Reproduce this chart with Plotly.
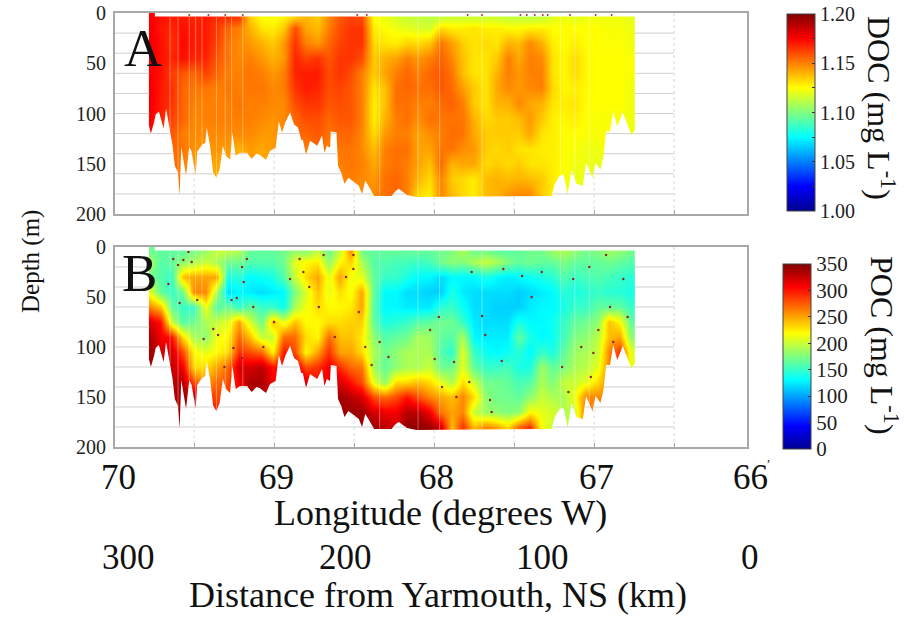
import numpy as np
import plotly.graph_objects as go

FONT = "Liberation Serif"
W, H = 920, 618

DEPTHS = [5, 15, 30, 45, 60, 75, 90, 105, 120, 135, 150, 165, 180]
LONS = [69.78, 69.71, 69.64, 69.57, 69.50, 69.43, 69.36, 69.29, 69.22, 69.15, 69.08,
        69.01, 68.94, 68.87, 68.80, 68.73, 68.66, 68.59, 68.52, 68.45, 68.38, 68.31,
        68.24, 68.17, 68.10, 68.03, 67.96, 67.89, 67.82, 67.75, 67.68, 67.61, 67.54,
        67.47, 67.40, 67.33, 67.26, 67.19, 67.12, 67.05, 66.98, 66.91, 66.84, 66.77]

# DOC (thousandths of mg/L); one list per longitude, one value per depth
DOC = [
 [1176,1178,1178,1176,1176,1178,1178,1176,1175,1170,1170,1170,1170],
 [1172,1170,1172,1172,1172,1170,1170,1168,1166,1165,1165,1165,1165],
 [1170,1168,1166,1168,1163,1166,1165,1162,1158,1155,1155,1155,1155],
 [1170,1172,1174,1172,1158,1155,1155,1155,1150,1152,1150,1150,1150],
 [1168,1170,1170,1168,1155,1152,1150,1148,1148,1146,1145,1145,1145],
 [1170,1170,1170,1168,1162,1152,1150,1150,1148,1146,1145,1145,1145],
 [1166,1164,1162,1158,1155,1150,1150,1150,1148,1146,1142,1140,1140],
 [1166,1155,1152,1152,1150,1152,1150,1150,1148,1145,1142,1140,1140],
 [1164,1150,1148,1148,1150,1150,1152,1150,1148,1140,1140,1140,1140],
 [1135,1140,1145,1150,1152,1152,1150,1150,1148,1145,1145,1145,1145],
 [1125,1130,1140,1145,1150,1152,1150,1148,1145,1142,1142,1142,1142],
 [1124,1128,1135,1140,1145,1148,1148,1146,1145,1145,1145,1145,1145],
 [1128,1135,1145,1145,1150,1150,1148,1148,1148,1148,1148,1148,1148],
 [1135,1160,1165,1168,1168,1165,1160,1155,1155,1155,1155,1155,1155],
 [1140,1142,1150,1162,1170,1170,1165,1160,1155,1150,1150,1150,1150],
 [1135,1138,1145,1165,1170,1168,1165,1160,1158,1155,1155,1155,1155],
 [1148,1150,1155,1158,1160,1160,1158,1155,1152,1150,1150,1150,1150],
 [1158,1160,1162,1165,1165,1162,1160,1158,1155,1152,1150,1150,1150],
 [1162,1165,1165,1165,1160,1158,1158,1158,1155,1152,1152,1150,1150],
 [1160,1165,1165,1160,1150,1150,1150,1150,1148,1148,1150,1148,1148],
 [1125,1128,1132,1135,1135,1130,1128,1128,1132,1138,1142,1145,1148],
 [1122,1125,1130,1140,1143,1137,1137,1140,1145,1150,1150,1153,1153],
 [1118,1122,1128,1143,1150,1153,1153,1150,1150,1153,1153,1155,1155],
 [1115,1120,1133,1150,1155,1155,1153,1153,1150,1153,1150,1150,1150],
 [1114,1118,1132,1145,1150,1153,1150,1147,1143,1143,1143,1140,1132],
 [1112,1116,1136,1150,1155,1153,1150,1153,1147,1143,1137,1132,1128],
 [1114,1132,1152,1156,1158,1158,1154,1152,1150,1152,1154,1149,1149],
 [1116,1128,1144,1148,1152,1154,1156,1152,1154,1152,1139,1135,1138],
 [1116,1128,1134,1137,1137,1144,1150,1152,1152,1147,1142,1132,1132],
 [1116,1130,1130,1130,1130,1135,1135,1140,1142,1145,1142,1128,1128],
 [1116,1128,1132,1130,1130,1130,1130,1132,1135,1135,1132,1138,1138],
 [1116,1128,1130,1135,1140,1142,1140,1135,1135,1132,1135,1140,1140],
 [1114,1126,1140,1150,1150,1148,1140,1135,1135,1135,1132,1138,1145],
 [1114,1125,1138,1142,1145,1145,1148,1138,1135,1130,1135,1140,1148],
 [1113,1128,1148,1150,1150,1148,1142,1145,1142,1130,1130,1138,1148],
 [1114,1128,1140,1148,1150,1150,1140,1135,1130,1128,1130,1135,1135],
 [1120,1125,1128,1130,1130,1132,1130,1128,1128,1128,1128,1128,1128],
 [1122,1125,1125,1126,1126,1126,1128,1126,1125,1125,1125,1124,1124],
 [1120,1125,1128,1132,1132,1128,1130,1128,1125,1124,1122,1122,1122],
 [1122,1125,1125,1126,1126,1126,1125,1125,1124,1122,1122,1120,1120],
 [1122,1125,1125,1125,1125,1125,1125,1124,1124,1122,1120,1120,1120],
 [1122,1124,1124,1125,1125,1125,1125,1124,1124,1124,1124,1124,1124],
 [1122,1124,1125,1125,1125,1125,1125,1124,1124,1124,1124,1124,1124],
 [1120,1122,1122,1124,1124,1122,1122,1122,1122,1122,1122,1122,1122],
]

# POC (mg/L as labelled); one list per longitude, one value per depth
POC = [
 [170,190,170,210,260,320,335,340,340,340,340,340,340],
 [165,160,160,165,240,300,310,320,330,330,330,330,330],
 [165,165,150,150,165,200,300,320,325,330,330,330,330],
 [165,180,240,170,150,160,230,280,310,330,340,345,345],
 [175,190,250,260,150,170,190,220,230,280,330,330,330],
 [185,200,250,260,215,190,180,210,230,250,300,310,310],
 [200,190,250,190,160,200,215,220,250,270,280,300,300],
 [195,170,140,120,170,210,220,230,270,280,290,290,290],
 [190,170,145,130,150,250,270,290,320,310,310,310,310],
 [165,160,130,125,165,205,240,280,320,335,335,335,335],
 [165,160,135,120,150,170,200,270,330,335,335,335,335],
 [165,160,140,125,150,240,200,220,300,310,310,310,310],
 [170,170,160,130,135,210,270,300,310,310,310,310,310],
 [185,210,200,175,190,240,270,280,320,330,330,330,330],
 [180,220,230,205,215,220,230,220,280,320,320,320,320],
 [200,225,250,240,230,220,220,250,290,300,300,300,300],
 [170,180,210,210,220,230,270,290,310,320,320,320,320],
 [200,220,250,230,220,230,240,250,290,320,340,340,340],
 [255,235,215,215,225,235,240,250,270,300,330,340,340],
 [170,190,210,250,250,235,225,230,265,280,320,340,340],
 [165,160,165,165,160,165,180,190,185,210,280,320,340],
 [165,160,150,130,130,140,160,170,165,180,270,310,330],
 [165,155,150,130,130,145,165,180,180,230,280,310,320],
 [165,155,140,120,125,150,170,190,190,230,300,330,345],
 [165,150,130,120,125,160,190,190,190,240,280,330,345],
 [165,155,130,115,125,165,185,190,200,230,260,310,340],
 [170,170,120,115,145,170,165,160,170,210,250,265,320],
 [175,180,130,140,150,170,160,145,170,190,240,250,240],
 [190,175,130,125,135,150,190,210,210,230,260,260,290],
 [170,190,130,120,120,125,130,150,165,200,230,200,240],
 [175,200,140,120,120,120,125,135,150,170,180,185,260],
 [165,190,130,120,115,120,125,130,150,170,170,180,250],
 [165,175,125,120,115,120,125,135,155,165,170,175,230],
 [165,165,130,115,115,140,165,145,140,155,165,180,270],
 [170,170,135,120,125,130,140,130,140,160,180,220,290],
 [170,165,140,125,130,130,130,150,185,190,200,210,215],
 [185,165,145,130,130,135,135,140,165,175,190,205,200],
 [190,175,160,145,140,150,155,165,175,200,190,190,200],
 [180,165,150,140,150,165,175,185,190,200,215,200,200],
 [170,165,155,145,150,170,180,190,195,210,260,270,270],
 [175,165,160,150,165,180,195,200,210,230,260,260,260],
 [185,170,155,145,165,240,240,260,260,260,260,260,260],
 [180,165,150,145,165,220,250,290,290,290,290,290,290],
 [170,160,145,140,150,165,180,210,210,210,210,210,210],
]

# sea-floor / transect bottom profile
BOTTOM_LON = [69.782,69.78,69.77,69.75,69.74,69.72,69.71,69.69,69.675,69.66,69.635,69.62,69.60,69.59,
 69.58,69.56,69.55,69.53,69.515,69.49,69.48,69.45,69.43,69.42,69.40,69.38,69.36,69.34,69.32,69.30,
 69.275,69.26,69.24,69.21,69.17,69.14,69.11,69.09,69.05,69.025,68.99,68.97,68.95,68.93,68.90,68.875,
 68.85,68.83,68.82,68.80,68.775,68.73,68.70,68.685,68.67,68.65,68.645,68.61,68.60,68.58,68.56,68.535,
 68.50,68.47,68.45,68.43,68.41,68.375,68.265,68.24,68.22,68.17,68.11,67.265,67.245,67.215,67.19,
 67.165,67.14,67.11,67.07,67.05,67.01,66.99,66.96,66.94,66.925,66.90,66.88,66.855,66.82,66.765,66.75,66.745]
BOTTOM_DEPTH = [112,114,120,109,101,98,104,115,95,109,131,152,159,182,
 133,152,162,133,138,162,138,131,129,114,132,159,164,156,132,142,
 146,119,142,139,139,145,140,141,146,137,134,108,119,109,99,111,
 114,126,126,141,127,132,122,139,132,134,118,119,152,159,170,164,
 168,172,180,167,172,182,182,177,175,181,183,182,170,162,161,
 180,156,170,172,149,164,149,156,142,118,118,98,113,99,122,117,117]

STREAK_LON = [69.65,69.60,69.53,69.49,69.45,69.36,69.305,69.265,69.195,68.34,68.10,67.965,67.70,67.21,67.12,67.03]

SPECK_LON = [69.567,69.515,69.63,69.60,69.535,69.66,69.59,69.48,69.265,69.233,69.19,69.20,69.17,69.35,
 69.254,69.20,69.067,68.90,68.84,68.817,68.69,68.504,68.504,68.34,68.285,68.39,67.97,68.025,
 67.765,67.567,67.45,67.327,67.13,67.39,67.70,67.68,67.996,67.875,67.577,67.65,67.004,66.973,66.817,66.79,66.925,67.03,
 69.44,69.38,69.31,69.13,69.0,68.78,68.72,68.62,68.55,68.47,68.43,67.95,67.86,67.78,67.64,67.2,67.16,67.08,67.02,66.9,66.88]
SPECK_DEPTH = [13,15,12,18,5,37,56,53,53,51,35,20,12,88,
 101,111,100,32,12,25,8,22,8,95,110,118,70,83,
 25,22,29,25,32,50,69,88,112,115,114,153,106,83,32,70,8,20,
 92,82,120,60,75,40,60,90,30,65,100,140,150,135,165,120,145,100,130,60,95]

# dark specks along the surface of panel A
SURFACE_LON = [69.53,69.41,69.305,69.195,68.48,68.42,67.79,67.70,67.46,67.42,67.37,67.32,67.29,67.15,66.99,66.89]

DEPTH_TICKS = [0, 50, 100, 150, 200]
DOC_TICKS = [1.00, 1.025, 1.05, 1.075, 1.10, 1.125, 1.15, 1.175, 1.20]
DOC_TICK_TEXT = ["1.00", "", "1.05", "", "1.10", "", "1.15", "", "1.20"]
POC_TICKS = [0, 50, 100, 150, 200, 250, 300, 350]
LON_LABELS = ["70", "69", "68", "67", "66"]
KM_LABELS = ["300", "200", "100", "0"]

JET = [[0, "rgb(0,0,143)"], [0.125, "rgb(0,0,255)"], [0.375, "rgb(0,255,255)"],
       [0.625, "rgb(255,255,0)"], [0.875, "rgb(255,0,0)"], [1, "rgb(128,0,0)"]]

L, R = 115, 747
PANELS = [(13, 214), (247, 447)]
X_RANGE = [69.994, 66.044]
GRID = "#cfcfcf"
BORDER = "#a8a8a8"

fig = go.Figure()
blon = np.array(BOTTOM_LON)
bdep = np.array(BOTTOM_DEPTH, float)


def bottom_at(lon):
    return np.interp(-np.asarray(lon), -blon, bdep, left=0, right=0)


def add_panel(n, z, zmin, zmax, cb):
    xa, ya = ("x", "y") if n == 1 else ("x2", "y2")
    fig.add_trace(go.Heatmap(x=LONS, y=DEPTHS, z=np.array(z, float).T, zmin=zmin, zmax=zmax,
                             colorscale=JET, zsmooth="best", colorbar=cb, xaxis=xa, yaxis=ya,
                             hoverinfo="skip"))
    # white below the bottom of the transect and outside it
    mx = [70.0, blon[0]] + list(blon) + [blon[-1], 66.0, 66.0, 70.0, 70.0]
    my = [0, 0] + list(bdep) + [0, 0, 200, 200, 0]
    fig.add_trace(go.Scatter(x=mx, y=my, mode="lines", fill="toself", fillcolor="white",
                             line=dict(width=0, color="white"), xaxis=xa, yaxis=ya,
                             hoverinfo="skip", showlegend=False))
    fig.add_trace(go.Scatter(x=[69.745, 66.7, 66.7, 69.745, 69.745], y=[0, 0, 3.6, 3.6, 0], mode="lines",
                             fill="toself", fillcolor="white", line=dict(width=0, color="white"),
                             xaxis=xa, yaxis=ya, hoverinfo="skip", showlegend=False))
    # pale streaks
    sx, sy = [], []
    for s in STREAK_LON:
        sx += [s, s, None]
        sy += [4, float(bottom_at(s)), None]
    fig.add_trace(go.Scatter(x=sx, y=sy, mode="lines", line=dict(color="rgba(255,255,255,0.35)", width=1),
                             xaxis=xa, yaxis=ya, hoverinfo="skip", showlegend=False))
    # grid only shows where there is no data
    gx, gy = [], []
    fine = np.arange(70.0, 66.5 - 1e-9, -0.002)
    fb = bottom_at(fine)
    for d in range(20, 200, 20):
        free = fb < d
        start = None
        for i, f in enumerate(free):
            if f and start is None:
                start = i
            if (not f or i == len(free) - 1) and start is not None:
                gx += [fine[start], fine[i], None]
                gy += [d, d, None]
                start = None
    fig.add_trace(go.Scatter(x=gx, y=gy, mode="lines", line=dict(color=GRID, width=1),
                             xaxis=xa, yaxis=ya, hoverinfo="skip", showlegend=False))
    vx, vy = [], []
    for v in [69.5, 69.0, 68.5, 68.0, 67.5, 67.0, 66.5]:
        vx += [v, v, None]
        vy += [float(bottom_at(v)), 200, None]
    fig.add_trace(go.Scatter(x=vx, y=vy, mode="lines", line=dict(color="#d8d8d8", width=1, dash="dot"),
                             xaxis=xa, yaxis=ya, hoverinfo="skip", showlegend=False))


add_panel(1, np.array(DOC) / 1000, 1.0, 1.2,
          dict(x=787 / W, xanchor="left", y=1 - 14 / H, yanchor="top", len=197, lenmode="pixels",
               thickness=28, thicknessmode="pixels", xpad=0, ypad=0,
               outlinecolor="#444", outlinewidth=1, tickvals=DOC_TICKS, ticktext=DOC_TICK_TEXT,
               ticks="inside", ticklen=3, tickcolor="#333", tickfont=dict(family=FONT, size=20, color="#222")))
add_panel(2, POC, 0, 350,
          dict(x=783 / W, xanchor="left", y=1 - 264 / H, yanchor="top", len=185, lenmode="pixels",
               thickness=28, thicknessmode="pixels", xpad=0, ypad=0,
               outlinecolor="#444", outlinewidth=1, tickvals=POC_TICKS,
               ticks="inside", ticklen=3, tickcolor="#333", tickfont=dict(family=FONT, size=21, color="#222")))

fig.add_trace(go.Scatter(x=SPECK_LON, y=SPECK_DEPTH, mode="markers",
                         marker=dict(size=2.5, color="#8a2a20"), xaxis="x2", yaxis="y2",
                         hoverinfo="skip", showlegend=False))
fig.add_trace(go.Scatter(x=SURFACE_LON, y=[2] * len(SURFACE_LON), mode="markers",
                         marker=dict(size=2, color="#b03020"), xaxis="x", yaxis="y",
                         hoverinfo="skip", showlegend=False))


def xax(anchor):
    return dict(domain=[L / W, R / W], range=X_RANGE, anchor=anchor, showgrid=False, zeroline=False,
                showline=True, mirror=True, linecolor=BORDER, linewidth=2, showticklabels=False,
                tickvals=[69.5, 69, 68.5, 68, 67.5, 67, 66.5], ticks="inside", ticklen=4, tickcolor=BORDER)


def yax(anchor, top, bot):
    return dict(domain=[1 - bot / H, 1 - top / H], range=[200, 0], anchor=anchor, showgrid=False, zeroline=False,
                showline=True, mirror=True, linecolor=BORDER, linewidth=2, tickvals=DEPTH_TICKS, ticks="",
                tickfont=dict(family=FONT, size=20, color="#222"), ticklabelstandoff=3)


ann = []


def text(t, px, py, size, angle=0):
    ann.append(dict(text=t, x=px / W, y=1 - py / H, xref="paper", yref="paper", showarrow=False,
                    xanchor="center", yanchor="middle", textangle=angle,
                    font=dict(family=FONT, size=size, color="#111")))


text("A", 143, 48, 53)
text("B", 139, 273, 53)
for t, px in zip(LON_LABELS, [118, 276, 436, 596, 750]):
    text(t, px, 477, 35)
for t, px in zip(KM_LABELS, [128, 345, 542, 750]):
    text(t, px, 557, 35)
text("Longitude (degrees W)", 440, 513, 36)
text("Distance from Yarmouth, NS (km)", 438, 595, 36)
text("Depth (m)", 31, 262, 25, -90)
text("DOC (mg L<sup>-1</sup>)", 881, 108, 32, 90)
text("POC (mg L<sup>-1</sup>)", 884, 345, 32, 90)
text(",", 768, 457, 12)

fig.update_layout(width=W, height=H, margin=dict(l=0, r=0, t=0, b=0, autoexpand=False), paper_bgcolor="white",
                  plot_bgcolor="white", showlegend=False, annotations=ann,
                  xaxis=xax("y"), yaxis=yax("x", *PANELS[0]),
                  xaxis2=xax("y2"), yaxis2=yax("x2", *PANELS[1]))
fig.write_html("out.html", config=dict(displayModeBar=False),
               post_script="document.body.style.margin='0';document.body.style.overflow='hidden';")
